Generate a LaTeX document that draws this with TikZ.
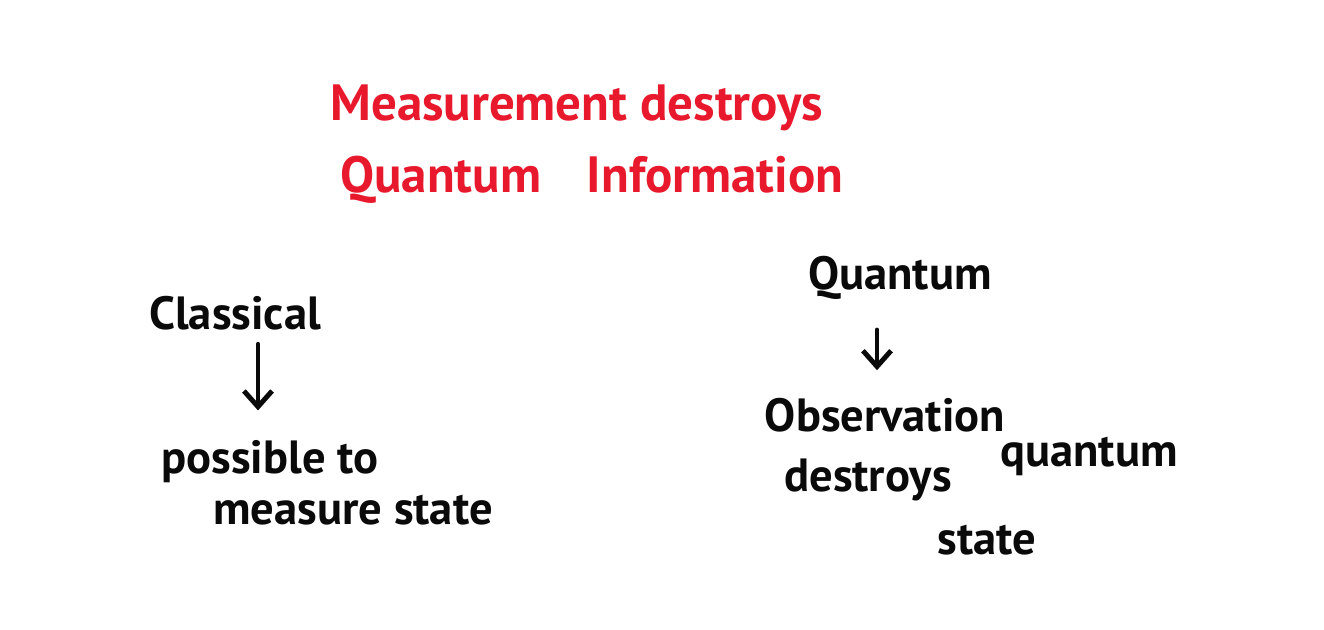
\documentclass[tikz,border=0pt]{standalone}
\usepackage{fontspec}
\setmainfont{PT Sans}
\usetikzlibrary{calc,arrows.meta,positioning}
\definecolor{rojo}{HTML}{E8192C}
\definecolor{tinta}{HTML}{0A0A0A}

\begin{document}
\begin{tikzpicture}[x=0.02cm,y=-0.02cm,>={Straight Barb[length=9pt,width=16pt]},line cap=round,
    titulo/.style={rojo,inner sep=0pt,anchor=west,font=\fontsize{29}{34}\selectfont\bfseries},
    nota/.style={tinta,inner sep=0pt,font=\fontsize{26.5}{30}\selectfont\bfseries},
    flecha/.style={tinta,->,line width=2.8pt}]
    \useasboundingbox[fill=white] (0,0) rectangle (1324,629);
    % --- titulo ---
    \node[titulo] (tit1) at (330,108) {Measurement destroys};
    \node[titulo] (tit2) at (340,180) {Quantum\hspace{0.9em}Information};
    % --- lado clasico ---
    \node[nota] (clasico) at (235,313) {Classical};
    \node[nota] (posible) at (270,462) {possible to};
    \node[nota] (medir) at (353,510) {measure state};
    \coordinate (c1) at ($(clasico.south)+(23,14)$);
    \draw[flecha,shorten >=0.6cm] (c1) -- (c1 |- posible.north);
    % --- lado cuantico ---
    \node[nota] (cuantico) at (900,278) {Quantum};
    \node[nota] (observa) at (885,415) {Observation};
    \node[nota] (destruye) at (868,480) {destroys};
    \node[nota] (qestado) at (1089,456) {quantum};
    \node[nota] (estado) at (987,540) {state};
    \coordinate (c2) at ($(cuantico.south)+(-23,30)$);
    \draw[flecha,shorten >=0.55cm] (c2) -- (c2 |- observa.north);
  \end{tikzpicture}
\end{document}
